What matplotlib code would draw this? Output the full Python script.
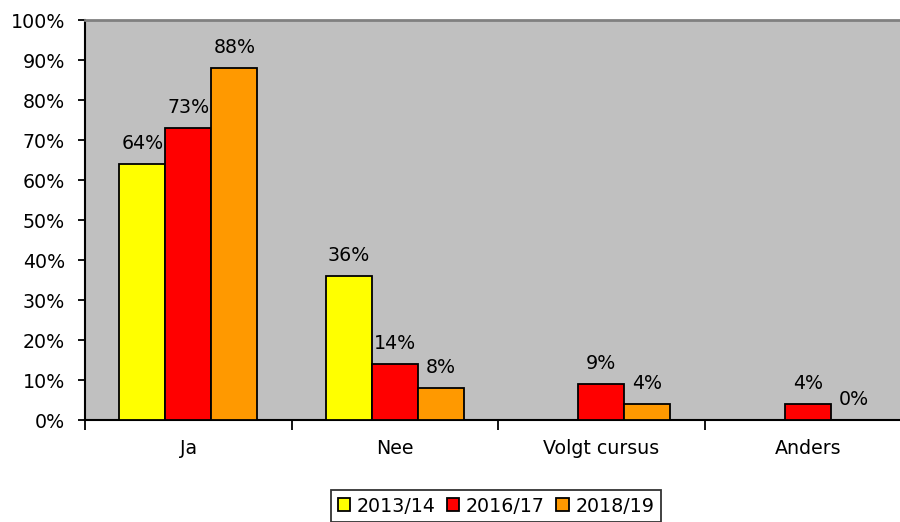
import matplotlib
matplotlib.use("Agg")
import matplotlib.pyplot as plt
import numpy as np
from matplotlib.patches import Patch

categories = ["Ja", "Nee", "Volgt cursus", "Anders"]
series_names = ["2013/14", "2016/17", "2018/19"]
s2013 = [64, 36, np.nan, np.nan]
s2016 = [73, 14, 9, 4]
s2018 = [88, 8, 4, 0]
colors = ["#FFFF00", "#FF0000", "#FF9900"]
yticks = [0, 10, 20, 30, 40, 50, 60, 70, 80, 90, 100]

FS = 13.7
plt.rcParams['font.family'] = ['DejaVu Sans']
fig = plt.figure(figsize=(9, 5.22), dpi=100)
ax = fig.add_axes([85/900, 1-420/522, 826/900, 400/522])
ax.set_facecolor("#C0C0C0")

x = np.arange(len(categories))
w = 0.223
for i, (vals, c, name) in enumerate(zip([s2013, s2016, s2018], colors, series_names)):
    xs = x + (i - 1) * w
    ax.bar(xs, vals, width=w, color=c, edgecolor="black", linewidth=1.3, label=name, zorder=3)
    for xi, v in zip(xs, vals):
        if np.isnan(v):
            continue
        ax.annotate(f"{int(v)}%", (xi, v), xytext=(0, 10.8), textcoords="offset points",
                    ha="center", va="baseline", fontsize=FS, zorder=4)

ax.set_xlim(-0.5, 3.5)
ax.set_ylim(0, 100)
ax.set_yticks(yticks)
ax.set_yticklabels([f"{t}%" for t in yticks], fontsize=FS)
ax.tick_params(axis="y", direction="out", length=5, width=1.3, pad=9.5)

ax.set_xticks(np.arange(-0.5, 4.0, 1.0))
ax.set_xticklabels([])
ax.tick_params(axis="x", which="major", direction="out", length=7, width=1.3)
ax.set_xticks(x, minor=True)
ax.set_xticklabels(categories, minor=True, fontsize=FS)
ax.tick_params(axis="x", which="minor", length=0, pad=14)

ax.spines["top"].set_color("#808080")
ax.spines["top"].set_linewidth(2)
ax.spines["left"].set_linewidth(1.5)
ax.spines["bottom"].set_linewidth(1.5)
ax.spines["right"].set_visible(False)

handles = [Patch(facecolor=c, edgecolor="black", linewidth=1.3) for c in colors]
leg = fig.legend(handles, series_names, loc="center", bbox_to_anchor=(496/900, 1-506/522),
                 ncol=3, fontsize=FS, frameon=True, fancybox=False, edgecolor="black",
                 handlelength=0.65, handleheight=0.65, handletextpad=0.35, columnspacing=0.6,
                 borderpad=0.35, borderaxespad=0)
leg.get_frame().set_linewidth(1.3)

fig.savefig("out.png", dpi=100, facecolor="white")
